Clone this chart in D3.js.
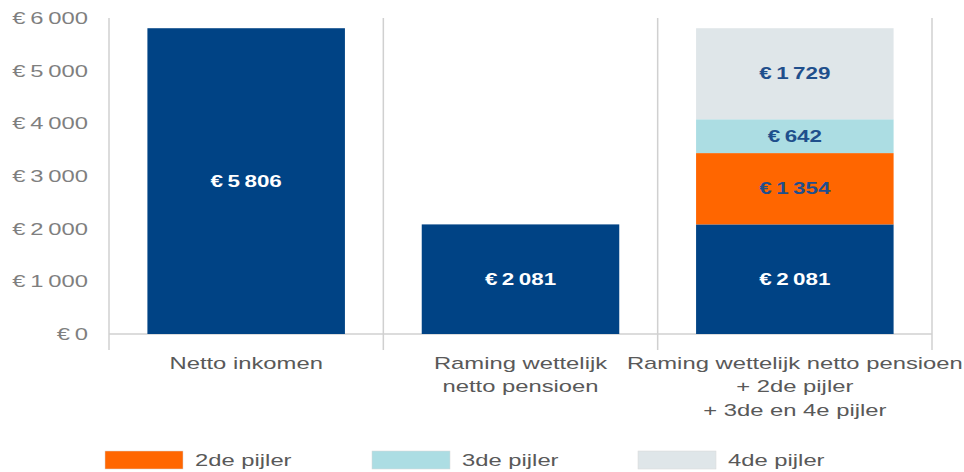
<!DOCTYPE html>
<html><head><meta charset="utf-8">
<script src="https://cdn.jsdelivr.net/npm/d3@7"></script>
<style>body{margin:0;background:#fff}svg{display:block}</style>
</head><body><svg id="c" width="964" height="472"></svg>
<script>
const categories = [["Netto inkomen"], ["Raming wettelijk", "netto pensioen"], ["Raming wettelijk netto pensioen", "+ 2de pijler", "+ 3de en 4e pijler"]];
const basis = [5806, 2081, 2081];
const pijler2 = [0, 0, 1354];
const pijler3 = [0, 0, 642];
const pijler4 = [0, 0, 1729];
const seriesNames = ["basis", "2de pijler", "3de pijler", "4de pijler"];
const yTicks = [0, 1000, 2000, 3000, 4000, 5000, 6000];
const colors = ["#004385", "#ff6600", "#acdde3", "#dfe6e9"];
const labelColors = ["#ffffff", "#1f4f8c", "#1f4f8c", "#1f4f8c"];

const svg = d3.select("#c");
const FONT = "Liberation Sans, Arial, sans-serif";
const SX = 1.4; // horizontal stretch of the reference text
const x0 = 109, x1 = 932, yTop = 18, yBase = 334;
const rows = categories.map((c, i) => ({i, basis: basis[i], "2de pijler": pijler2[i], "3de pijler": pijler3[i], "4de pijler": pijler4[i]}));
const x = d3.scaleBand().domain(d3.range(categories.length)).range([x0, x1]).paddingInner(0.28).paddingOuter(0.14);
const y = d3.scaleLinear().domain([0, 6000]).range([yBase, yTop]);
const fmt = v => "€\u2009" + d3.format(",")(v).replace(/,/g, "\u2009");

function stretchedText(parent, px, py, anchor) {
  return parent.append("text").attr("transform", `translate(${px},${py}) scale(${SX},1)`)
    .attr("x", 0).attr("y", 0).attr("text-anchor", anchor).attr("font-family", FONT);
}

// y axis labels
const yg = svg.append("g");
yTicks.forEach(d => {
  stretchedText(yg, 88, y(d), "end").attr("dy", "0.35em")
    .attr("font-size", 17).attr("fill", "#7f7f7f").text(fmt(d));
});

// separators & baseline
const sepX = [x0, (x(0) + x.bandwidth() + x(1)) / 2, (x(1) + x.bandwidth() + x(2)) / 2, x1];
svg.append("g").selectAll("line").data(sepX).join("line")
  .attr("x1", d => d).attr("x2", d => d).attr("y1", yTop).attr("y2", 350)
  .attr("stroke", "#d0d0d0").attr("stroke-width", 1.5);
svg.append("line").attr("x1", x0).attr("x2", x1).attr("y1", yBase).attr("y2", yBase)
  .attr("stroke", "#d0d0d0").attr("stroke-width", 1.5);

// stacked bars
const stack = d3.stack().keys(seriesNames)(rows);
stack.forEach((layer, k) => {
  const g = svg.append("g");
  layer.forEach((d, i) => {
    if (d[1] - d[0] <= 0) return;
    g.append("rect").attr("x", x(i)).attr("width", x.bandwidth())
      .attr("y", y(d[1])).attr("height", y(d[0]) - y(d[1])).attr("fill", colors[k]);
    stretchedText(g, x(i) + x.bandwidth() / 2, (y(d[0]) + y(d[1])) / 2, "middle")
      .attr("dy", "0.35em").attr("font-weight", "bold")
      .attr("font-size", 16).attr("fill", labelColors[k])
      .text(fmt(d[1] - d[0]));
  });
});

// category labels
categories.forEach((lines, i) => {
  const t = stretchedText(svg, x(i) + x.bandwidth() / 2, 369, "middle")
    .attr("font-size", 17).attr("fill", "#595959");
  lines.forEach((ln, j) => t.append("tspan").attr("x", 0).attr("y", j * 23.5).text(ln));
});

// legend
const legendX = [105, 372, 638];
seriesNames.slice(1).forEach((n, k) => {
  svg.append("rect").attr("x", legendX[k]).attr("y", 451).attr("width", 78).attr("height", 18)
    .attr("fill", colors[k + 1]).attr("stroke", "#d8d8d8").attr("stroke-width", 0.5);
  stretchedText(svg, legendX[k] + 90, 460, "start").attr("dy", "0.35em")
    .attr("font-size", 17).attr("fill", "#595959").text(n);
});
</script></body></html>
